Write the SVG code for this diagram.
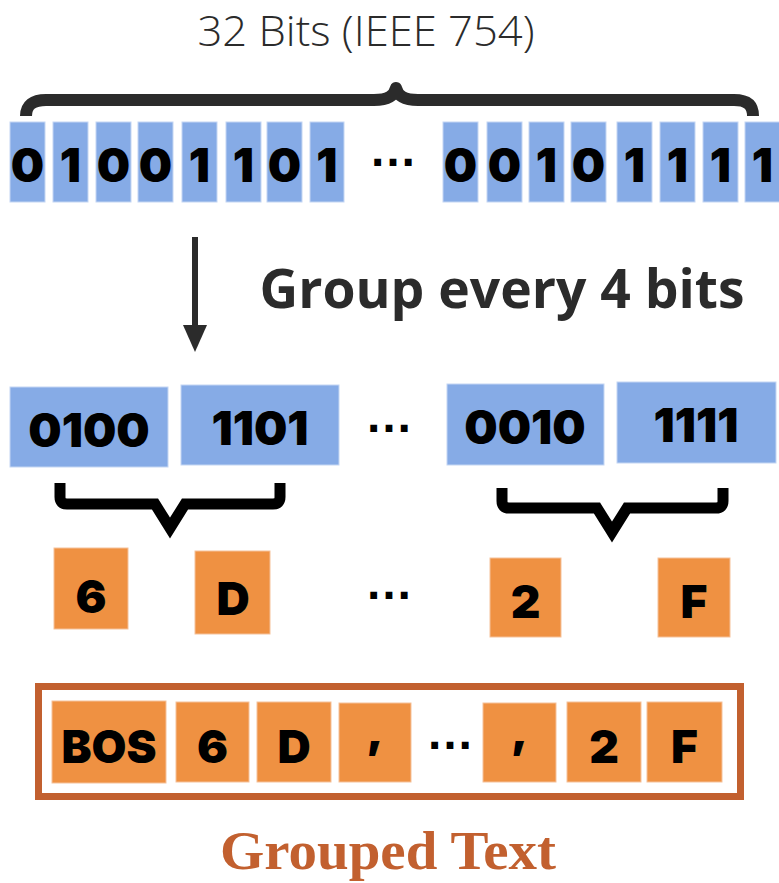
<svg xmlns="http://www.w3.org/2000/svg" width="779" height="883" viewBox="0 0 779 883">
  <style>
    .bit { fill: #86ABE6; stroke: #C4D6F3; stroke-width: 1; }
    .hex { fill: #EF9142; stroke: #F5C19A; stroke-width: 1; }
    .d { font-family: Inter, "Liberation Sans", sans-serif; font-weight: 900; font-size: 47px; fill: #000; text-anchor: middle; }
    .h { font-family: Inter, "Liberation Sans", sans-serif; font-weight: 900; font-size: 46px; fill: #000; text-anchor: middle; }
    .dots { font-family: "Liberation Sans", sans-serif; font-weight: 700; font-size: 48px; fill: #000; text-anchor: middle; }
    .brace { fill: none; stroke: #2B2B2B; stroke-width: 12; stroke-linecap: butt; stroke-linejoin: round; }
    .brace2 { fill: none; stroke: #000; stroke-width: 11; stroke-linecap: butt; stroke-linejoin: miter; stroke-miterlimit: 10; }
  </style>

  <rect width="779" height="883" fill="#FFFFFF"/>

  <!-- title -->
  <text id="title" x="366" y="46" font-family="'Open Sans', 'Liberation Sans', sans-serif" font-weight="300" font-size="42" fill="#2B2B2B" text-anchor="middle" textLength="337" lengthAdjust="spacingAndGlyphs">32 Bits (IEEE 754)</text>

  <!-- 32-bit row -->
  <g id="bits">
    <rect class="bit" x="10" y="122" width="35" height="80"/><text class="d" x="27.5" y="182">0</text>
    <rect class="bit" x="53" y="122" width="35" height="80"/><text class="d" x="70.5" y="182">1</text>
    <rect class="bit" x="96" y="122" width="35" height="80"/><text class="d" x="113.5" y="182">0</text>
    <rect class="bit" x="138" y="122" width="35" height="80"/><text class="d" x="155.5" y="182">0</text>
    <rect class="bit" x="182" y="122" width="35" height="80"/><text class="d" x="199.5" y="182">1</text>
    <rect class="bit" x="226" y="122" width="35" height="80"/><text class="d" x="243.5" y="182">1</text>
    <rect class="bit" x="267" y="122" width="35" height="80"/><text class="d" x="284.5" y="182">0</text>
    <rect class="bit" x="310" y="122" width="34" height="80"/><text class="d" x="327" y="182">1</text>
    <text class="dots" x="393" y="166">…</text>
    <rect class="bit" x="443" y="122" width="35" height="80"/><text class="d" x="460.5" y="182">0</text>
    <rect class="bit" x="487" y="122" width="35" height="80"/><text class="d" x="504.5" y="182">0</text>
    <rect class="bit" x="529" y="122" width="35" height="80"/><text class="d" x="546.5" y="182">1</text>
    <rect class="bit" x="571" y="122" width="35" height="80"/><text class="d" x="588.5" y="182">0</text>
    <rect class="bit" x="617" y="122" width="35" height="80"/><text class="d" x="634.5" y="182">1</text>
    <rect class="bit" x="660" y="122" width="35" height="80"/><text class="d" x="677.5" y="182">1</text>
    <rect class="bit" x="703" y="122" width="35" height="80"/><text class="d" x="720.5" y="182">1</text>
    <rect class="bit" x="745" y="122" width="35" height="80"/><text class="d" x="762.5" y="182">1</text>
  </g>

  <!-- 4-bit groups -->
  <g id="g0100"><rect class="bit" x="10" y="387" width="158" height="80"/><text class="d" x="89" y="447">0100</text></g>
  <g id="g1101"><rect class="bit" x="181" y="385" width="158" height="80"/><text class="d" x="260" y="445">1101</text></g>
  <text class="dots" x="389" y="432">…</text>
  <g id="g0010"><rect class="bit" x="447" y="384" width="157" height="81"/><text class="d" x="525" y="444">0010</text></g>
  <g id="g1111"><rect class="bit" x="617" y="382" width="159" height="81"/><text class="d" x="696" y="442">1111</text></g>

  <!-- hex digits -->
  <g id="h6"><rect class="hex" x="54" y="548" width="74" height="81"/><text class="h" x="91" y="613">6</text></g>
  <g id="hD"><rect class="hex" x="195" y="551" width="75" height="83"/><text class="h" x="233" y="615">D</text></g>
  <text class="dots" x="389" y="599">…</text>
  <g id="h2"><rect class="hex" x="490" y="558" width="71" height="79"/><text class="h" x="525.5" y="618">2</text></g>
  <g id="hF"><rect class="hex" x="658" y="558" width="72" height="79"/><text class="h" x="694" y="618">F</text></g>

  <!-- grouped text sequence -->
  <g id="sequence">
    <rect x="38.5" y="686.5" width="702" height="110" fill="#FFFFFF" stroke="#C2602F" stroke-width="7"/>
    <rect class="hex" x="52" y="701" width="114" height="82"/><text class="h" x="109" y="763" textLength="95" lengthAdjust="spacingAndGlyphs">BOS</text>
    <rect class="hex" x="176" y="702" width="73" height="80"/><text class="h" x="212.5" y="763">6</text>
    <rect class="hex" x="257" y="702" width="74" height="80"/><text class="h" x="294" y="763">D</text>
    <rect class="hex" x="339" y="703" width="72" height="79"/><text class="h" x="375" y="746">,</text>
    <text class="dots" x="450" y="749">…</text>
    <rect class="hex" x="483" y="703" width="73" height="79"/><text class="h" x="519.5" y="746">,</text>
    <rect class="hex" x="567" y="702" width="74" height="80"/><text class="h" x="604" y="763">2</text>
    <rect class="hex" x="647" y="702" width="75" height="80"/><text class="h" x="684.5" y="763">F</text>
  </g>

  <text id="caption" x="388" y="869" font-family="'Liberation Serif', serif" font-weight="700" font-size="54" fill="#C2602F" text-anchor="middle" textLength="336" lengthAdjust="spacingAndGlyphs">Grouped Text</text>

  <!-- connectors: braces and arrow -->
  <g id="connectors">
    <path class="brace" d="M26,116 C26,105 33,100 46,100 L374,100 C388,100 394,96 396,88 C398,96 404,100 418,100 L734,100 C747,100 753,105 753,116"/>
    <line x1="195" y1="237" x2="195" y2="328" stroke="#2B2B2B" stroke-width="6"/>
    <polygon points="183,325 207,325 195,352" fill="#2B2B2B"/>
    <path class="brace2" d="M60,483 L60,497 Q60,504 67,504 L155,504 L170,528 L185,504 L273,504 Q280,504 280,497 L280,483"/>
    <path class="brace2" d="M502,488 L502,501 Q502,508 509,508 L597,508 L612,532 L627,508 L716,508 Q723,508 723,501 L723,488"/>
  </g>

  <text id="step" x="502" y="308" font-family="'Open Sans', 'Liberation Sans', sans-serif" font-weight="700" font-size="53" fill="#2B2B2B" text-anchor="middle" textLength="485" lengthAdjust="spacingAndGlyphs">Group every 4 bits</text>
</svg>
